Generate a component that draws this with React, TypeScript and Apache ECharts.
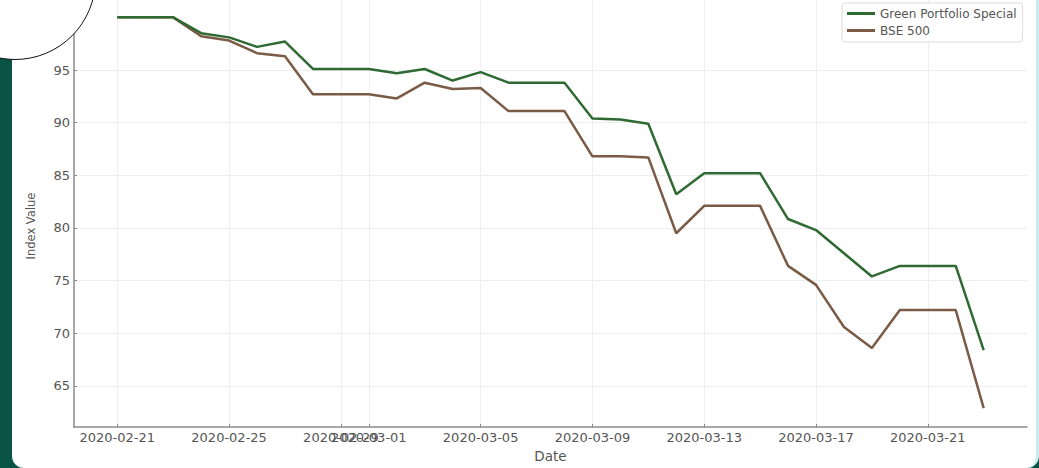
import React, { useEffect, useRef } from "react";
import * as echarts from "echarts";

const dates = [
  "2020-02-21", "2020-02-22", "2020-02-23", "2020-02-24", "2020-02-25", "2020-02-26",
  "2020-02-27", "2020-02-28", "2020-02-29", "2020-03-01", "2020-03-02", "2020-03-03",
  "2020-03-04", "2020-03-05", "2020-03-06", "2020-03-07", "2020-03-08", "2020-03-09",
  "2020-03-10", "2020-03-11", "2020-03-12", "2020-03-13", "2020-03-14", "2020-03-15",
  "2020-03-16", "2020-03-17", "2020-03-18", "2020-03-19", "2020-03-20", "2020-03-21",
  "2020-03-22", "2020-03-23",
];

const greenPortfolio = [
  100, 100, 100, 98.5, 98.1, 97.2, 97.7, 95.1, 95.1, 95.1, 94.7, 95.1, 94.0, 94.8,
  93.8, 93.8, 93.8, 90.4, 90.3, 89.9, 83.2, 85.2, 85.2, 85.2, 80.85, 79.8, 77.6, 75.4,
  76.4, 76.4, 76.4, 68.4,
];

const bse500 = [
  100, 100, 100, 98.2, 97.8, 96.6, 96.3, 92.7, 92.7, 92.7, 92.3, 93.8, 93.2, 93.3,
  91.1, 91.1, 91.1, 86.8, 86.8, 86.7, 79.5, 82.1, 82.1, 82.1, 76.4, 74.6, 70.6, 68.6,
  72.2, 72.2, 72.2, 62.9,
];

const xTickDates = [
  "2020-02-21", "2020-02-25", "2020-02-29", "2020-03-01", "2020-03-05",
  "2020-03-09", "2020-03-13", "2020-03-17", "2020-03-21",
];

const yTicks = [65, 70, 75, 80, 85, 90, 95];

const seriesNames = ["Green Portfolio Special", "BSE 500"];
const seriesColors = ["#2f6a33", "#7b5a46"];
const xAxisTitle = "Date";
const yAxisTitle = "Index Value";

const DAY = 86400000;
function ts(d: string): number {
  const [y, m, dd] = d.split("-").map(Number);
  return Date.UTC(y, m - 1, dd);
}
function fmt(v: number): string {
  return new Date(Math.round(v / DAY) * DAY).toISOString().slice(0, 10);
}

export default function App() {
  const ref = useRef<HTMLDivElement>(null);

  useEffect(() => {
    if (!ref.current) return;
    const chart = echarts.init(ref.current, undefined, { renderer: "svg" });
    const xTickVals = xTickDates.map(ts);
    const xmin = ts(dates[0]) - 1.55 * DAY;
    const xmax = ts(dates[dates.length - 1]) + 1.55 * DAY;
    const axisColor = "#8a8a8a";
    const labelColor = "#555555";
    const gridLine = { show: true, lineStyle: { color: "#eeeeee", width: 1 } };

    chart.setOption({
      animation: false,
      textStyle: { fontFamily: "DejaVu Sans" },
      grid: { left: 74, right: 12, top: 0, bottom: 41 },
      legend: {
        left: 842,
        top: 3,
        orient: "vertical",
        data: seriesNames,
        icon: "rect",
        itemWidth: 28,
        itemHeight: 3,
        itemGap: 4,
        padding: [4, 6, 5, 5],
        backgroundColor: "#ffffff",
        borderColor: "#dcdcdc",
        borderWidth: 1,
        borderRadius: 3,
        textStyle: { color: labelColor, fontSize: 12, lineHeight: 13 },
      },
      graphic: [
        {
          type: "text",
          x: 31,
          y: 226,
          rotation: Math.PI / 2,
          style: {
            text: yAxisTitle,
            fill: labelColor,
            font: "11.5px 'DejaVu Sans'",
            align: "center",
            verticalAlign: "middle",
          },
        },
      ],
      xAxis: {
        type: "value",
        min: xmin,
        max: xmax,
        name: xAxisTitle,
        nameLocation: "middle",
        nameGap: 22,
        nameTextStyle: { color: labelColor, fontSize: 13.5 },
        axisLine: { show: true, lineStyle: { color: axisColor, width: 1.5 } },
        axisTick: {
          show: true,
          inside: true,
          length: 3,
          customValues: xTickVals,
          lineStyle: { color: axisColor },
        },
        axisLabel: {
          customValues: xTickVals,
          formatter: (v: number) => fmt(v),
          color: labelColor,
          fontSize: 13,
          margin: 4,
          hideOverlap: false,
        },
        splitLine: gridLine,
      },
      yAxis: {
        type: "value",
        min: 61.1,
        max: 101.65,
        axisLine: { show: true, lineStyle: { color: axisColor, width: 1.5 } },
        axisTick: {
          show: true,
          inside: true,
          length: 3,
          customValues: yTicks,
          lineStyle: { color: axisColor },
        },
        axisLabel: {
          customValues: yTicks,
          color: labelColor,
          fontSize: 13,
          margin: 4,
        },
        splitLine: gridLine,
      },
      series: [greenPortfolio, bse500].map((vals, k) => ({
        name: seriesNames[k],
        type: "line",
        symbol: "none",
        data: dates.map((d, i) => [ts(d), vals[i]]),
        lineStyle: { color: seriesColors[k], width: 2.5 },
        itemStyle: { color: seriesColors[k] },
        z: 3 - k,
      })),
    });

    return () => chart.dispose();
  }, []);

  return (
    <div
      style={{
        position: "fixed",
        left: 0,
        top: 0,
        width: 1039,
        height: 468,
        background: "#0a5446",
        overflow: "hidden",
      }}
    >
      <div
        style={{
          position: "absolute",
          left: 12,
          top: -20,
          width: 1027,
          height: 488,
          background: "#ffffff",
          borderRadius: 12,
          borderRight: "3px solid #c9eef2",
          boxSizing: "border-box",
        }}
      />
      <div
        ref={ref}
        style={{ position: "absolute", left: 0, top: 0, width: 1039, height: 468 }}
      />
      <div
        style={{
          position: "absolute",
          left: -66,
          top: -102,
          width: 162,
          height: 162,
          borderRadius: "50%",
          background: "#ffffff",
          border: "1.5px solid #111111",
          boxSizing: "border-box",
        }}
      />
    </div>
  );
}
